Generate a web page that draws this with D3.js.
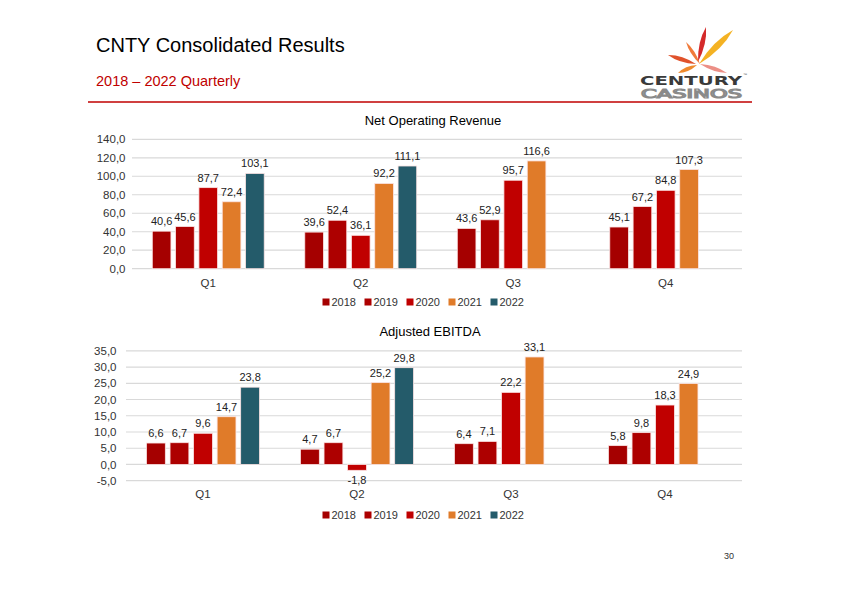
<!DOCTYPE html>
<html>
<head>
<meta charset="utf-8">
<script src="https://cdn.jsdelivr.net/npm/d3@7"></script>
<style>
  html, body { margin: 0; padding: 0; background: #fff; }
  svg { display: block; font-family: "Liberation Sans", Arial, sans-serif; }
</style>
</head>
<body>
<svg id="chart" width="841" height="595"></svg>
<script>
// ---- Data ----
const quarters = ["Q1", "Q2", "Q3", "Q4"];
const years = ["2018", "2019", "2020", "2021", "2022"];

const revenue2018 = [40.6, 39.6, 43.6, 45.1];
const revenue2019 = [45.6, 52.4, 52.9, 67.2];
const revenue2020 = [87.7, 36.1, 95.7, 84.8];
const revenue2021 = [72.4, 92.2, 116.6, 107.3];
const revenue2022 = [103.1, 111.1, null, null];

const ebitda2018 = [6.6, 4.7, 6.4, 5.8];
const ebitda2019 = [6.7, 6.7, 7.1, 9.8];
const ebitda2020 = [9.6, -1.8, 22.2, 18.3];
const ebitda2021 = [14.7, 25.2, 33.1, 24.9];
const ebitda2022 = [23.8, 29.8, null, null];

const revenueTicks = [0, 20, 40, 60, 80, 100, 120, 140];
const ebitdaTicks = [-5, 0, 5, 10, 15, 20, 25, 30, 35];

const yearColors = ["#A50000", "#AD0000", "#C00000", "#E07B29", "#245B6A"];

// ---- Helpers ----
const locale = d3.formatLocale({ decimal: ",", thousands: ".", grouping: [3], currency: ["", ""], minus: "-" });
const fmt = locale.format(".1f");
const color = d3.scaleOrdinal().domain(years).range(yearColors);

const svg = d3.select("#chart");

// ---- Header ----
svg.append("text").attr("x", 96).attr("y", 52)
  .attr("font-size", 20).attr("fill", "#000").text("CNTY Consolidated Results");
svg.append("text").attr("x", 96).attr("y", 86)
  .attr("font-size", 14.5).attr("fill", "#C00000").text("2018 – 2022 Quarterly");
svg.append("line").attr("x1", 88).attr("x2", 752).attr("y1", 102).attr("y2", 102)
  .attr("stroke", "#C00000").attr("stroke-width", 1.6);

// ---- Logo ----
const logo = svg.append("g");
function petal(x0, y0, x1, y1, w, fill) {
  const dx = x1 - x0, dy = y1 - y0, len = Math.hypot(dx, dy);
  const nx = -dy / len, ny = dx / len;
  const mx = x0 + dx * 0.55, my = y0 + dy * 0.55;
  logo.append("path")
    .attr("d", `M${x0},${y0} Q${mx + nx * w},${my + ny * w} ${x1},${y1} Q${mx - nx * w},${my - ny * w} ${x0},${y0} Z`)
    .attr("fill", fill);
}
petal(699, 64, 733, 30, 6.5, "#F4B223");
petal(698, 62, 706, 27, 5, "#D42A2A");
petal(696, 64, 668, 55, 4.5, "#E0522B");
petal(697, 65, 678, 73, 4, "#EE8A2E");
petal(700, 64, 727, 73, 4, "#EC8F86");
petal(700, 64, 686, 42, 3.5, "#F07A3A");
logo.append("text").attr("x", 640).attr("y", 84.5)
  .attr("font-family", "DejaVu Sans").attr("font-weight", "bold")
  .attr("font-size", 12.5).attr("fill", "#3a3a3a")
  .attr("textLength", 102).attr("lengthAdjust", "spacingAndGlyphs").text("CENTURY");
logo.append("text").attr("x", 743).attr("y", 76)
  .attr("font-size", 4).attr("fill", "#555").text("™");
logo.append("text").attr("x", 641).attr("y", 97.5)
  .attr("font-family", "DejaVu Sans").attr("font-size", 11.5)
  .attr("fill", "#fff").attr("stroke", "#8a8a8a").attr("stroke-width", 1.1)
  .attr("textLength", 101).attr("lengthAdjust", "spacingAndGlyphs").text("CASINOS");

// ---- Chart builder ----
function drawChart(cfg) {
  const g = svg.append("g");
  const x0 = d3.scaleBand().domain(quarters).range([cfg.left, cfg.right]);
  const x1 = d3.scaleBand().domain(years).range([0, x0.bandwidth()])
    .paddingInner(0.2).paddingOuter(0.87);
  const y = d3.scaleLinear().domain(cfg.domain).range([cfg.bottom, cfg.top]);

  // title
  g.append("text").attr("x", (cfg.left + cfg.right) / 2 - 4).attr("y", cfg.titleY)
    .attr("text-anchor", "middle").attr("dominant-baseline", "central")
    .attr("font-size", 13).attr("fill", "#000").text(cfg.title);

  // gridlines
  g.append("g").selectAll("line").data(cfg.ticks).join("line")
    .attr("x1", cfg.left).attr("x2", cfg.right)
    .attr("y1", d => y(d)).attr("y2", d => y(d))
    .attr("stroke", "#D9D9D9").attr("stroke-width", 1.2);

  // y axis
  const yAxis = d3.axisLeft(y).tickValues(cfg.ticks).tickFormat(fmt).tickSize(0).tickPadding(cfg.tickPad);
  const ya = g.append("g").attr("transform", `translate(${cfg.left},0)`).call(yAxis);
  ya.select(".domain").remove();
  ya.selectAll("text").attr("font-size", 11.5).attr("fill", "#333")
    .attr("font-family", "Liberation Sans, Arial, sans-serif");

  // x labels
  const xAxis = d3.axisBottom(x0).tickSize(0).tickPadding(0);
  const xa = g.append("g").attr("transform", `translate(0,${cfg.qLabelY})`).call(xAxis);
  xa.select(".domain").remove();
  xa.selectAll("text").attr("font-size", 11.5).attr("fill", "#333")
    .attr("dy", "0.35em").attr("y", 0)
    .attr("font-family", "Liberation Sans, Arial, sans-serif");

  // bars
  const rows = [];
  quarters.forEach((q, qi) => {
    years.forEach((yr, yi) => {
      const v = cfg.series[yi][qi];
      if (v !== null && v !== undefined) rows.push({ q, yr, v });
    });
  });
  const bars = g.append("g");
  bars.selectAll("rect").data(rows).join("rect")
    .attr("x", d => x0(d.q) + x1(d.yr))
    .attr("width", x1.bandwidth())
    .attr("y", d => y(Math.max(0, d.v)))
    .attr("height", d => Math.abs(y(d.v) - y(0)))
    .attr("fill", d => color(d.yr))
    .attr("stroke", "#fbe3e3").attr("stroke-width", 0.8);

  bars.selectAll("text").data(rows).join("text")
    .attr("x", d => x0(d.q) + x1(d.yr) + x1.bandwidth() / 2)
    .attr("y", d => d.v >= 0 ? y(d.v) - 6 : y(d.v) + 14)
    .attr("text-anchor", "middle").attr("font-size", 11).attr("fill", "#222")
    .text(d => fmt(d.v));

  // legend
  const lg = g.append("g");
  const item = lg.selectAll("g").data(years).join("g")
    .attr("transform", (d, i) => `translate(${cfg.legendX + i * 42},${cfg.legendY})`);
  item.append("rect").attr("x", 0).attr("y", -3.5).attr("width", 7).attr("height", 7)
    .attr("fill", d => color(d));
  item.append("text").attr("x", 9).attr("y", 0).attr("dominant-baseline", "central")
    .attr("font-size", 11).attr("fill", "#333").text(d => d);
}

drawChart({
  title: "Net Operating Revenue", titleY: 120,
  left: 132, right: 742, top: 139.3, bottom: 268.7,
  domain: [0, 140], ticks: revenueTicks, tickPad: 6.5,
  series: [revenue2018, revenue2019, revenue2020, revenue2021, revenue2022],
  qLabelY: 282.5, legendX: 322.5, legendY: 302
});

drawChart({
  title: "Adjusted EBITDA", titleY: 331,
  left: 126, right: 742, top: 350.8, bottom: 480.7,
  domain: [-5, 35], ticks: ebitdaTicks, tickPad: 9.5,
  series: [ebitda2018, ebitda2019, ebitda2020, ebitda2021, ebitda2022],
  qLabelY: 493.5, legendX: 322.5, legendY: 515
});

// page number
svg.append("text").attr("x", 724).attr("y", 556).attr("dominant-baseline", "central")
  .attr("font-size", 9).attr("fill", "#333").text("30");
</script>
</body>
</html>
